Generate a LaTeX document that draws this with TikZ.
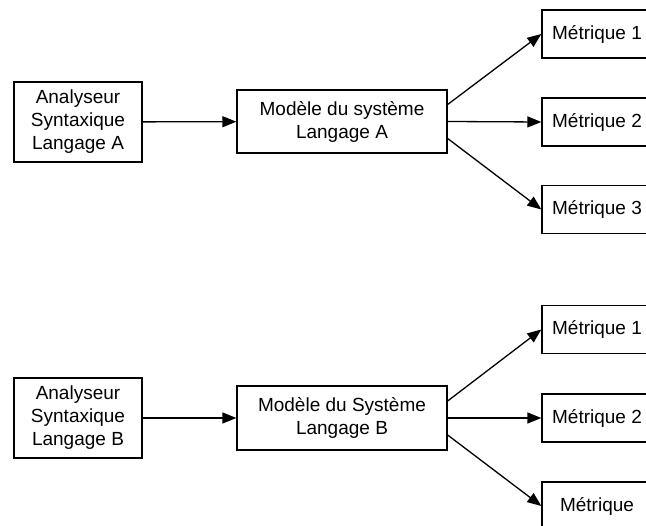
\documentclass[tikz,border=0pt]{standalone}
\usepackage{fontspec}
\setmainfont{Liberation Sans}
\usetikzlibrary{arrows.meta}
\tikzset{
  box/.style={draw, line width=1.3pt, align=center, inner sep=0pt,
    font=\fontsize{19}{23}\selectfont},
  conn/.style={line width=1.3pt, -{Triangle[length=14pt,width=11pt]}},
}
\begin{document}
\begin{tikzpicture}[x=1pt,y=-1pt]
\clip (0,0) rectangle (646,526);
\useasboundingbox (0,0) rectangle (646,526);
% top group
\node[box, minimum width=128pt, minimum height=80pt] (pa) at (78,122) {Analyseur\\Syntaxique\\Langage A};
\node[box, minimum width=210pt, minimum height=63pt] (ma) at (342,121.5) {Modèle du système\\Langage A};
\node[box, minimum width=110pt, minimum height=48pt] (a1) at (597,34) {Métrique 1};
\node[box, minimum width=110pt, minimum height=48pt] (a2) at (597,122) {Métrique 2};
\node[box, minimum width=110pt, minimum height=48pt] (a3) at (597,209.5) {Métrique 3};
\draw[conn] (pa) -- (ma);
\draw[conn] ([yshift=17pt]ma.east) -- (a1.west);
\draw[conn] (ma.east) -- (a2.west);
\draw[conn] ([yshift=-17pt]ma.east) -- (a3.west);
% bottom group
\node[box, minimum width=128pt, minimum height=80pt] (pb) at (78,418) {Analyseur\\Syntaxique\\Langage B};
\node[box, minimum width=210pt, minimum height=64pt] (mb) at (342,418) {Modèle du Système\\Langage B};
\node[box, minimum width=110pt, minimum height=48pt] (b1) at (597,329.5) {Métrique 1};
\node[box, minimum width=110pt, minimum height=48pt] (b2) at (597,418) {Métrique 2};
\node[box, minimum width=110pt, minimum height=48pt] (b3) at (597,506) {Métrique};
\draw[conn] (pb) -- (mb);
\draw[conn] ([yshift=17pt]mb.east) -- (b1.west);
\draw[conn] (mb.east) -- (b2.west);
\draw[conn] ([yshift=-17pt]mb.east) -- (b3.west);
\end{tikzpicture}
\end{document}
